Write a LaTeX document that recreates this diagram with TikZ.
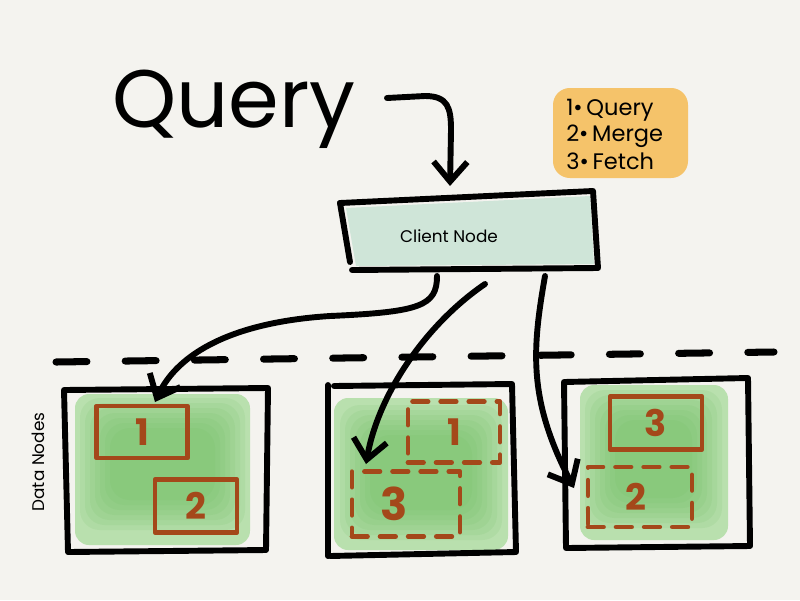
\documentclass[tikz,border=0pt]{standalone}
\usepackage{fontspec}
\setmainfont{Poppins}
\usetikzlibrary{arrows.meta}
\definecolor{bgc}{HTML}{F4F3EF}
\definecolor{mint}{HTML}{CFE5D8}
\definecolor{legendc}{HTML}{F5C36A}
\definecolor{greenA}{HTML}{B9E0AE}
\definecolor{greenB}{HTML}{6DBE60}
\definecolor{rust}{HTML}{A4481A}
\tikzset{
  ink/.style={line width=4.2pt, line cap=round, line join=round, black},
  arr/.style={ink, -{Straight Barb[length=14pt, width=24pt, line width=4.2pt]}},
  shard/.style={draw=rust, line width=3.4pt, line cap=round, line join=round, inner sep=0pt, text=rust, font=\fontsize{26}{26}\selectfont\bfseries},
  dshard/.style={shard, dash pattern=on 11pt off 9pt},
  greenfill/.style={fill=greenA, rounded corners=10pt},
  greencore/.style={fill=greenB, opacity=0.12, rounded corners=14pt},
}
\begin{document}
\begin{tikzpicture}[x=0.025cm, y=-0.025cm]
\fill[bgc] (0,0) rectangle (800,600);
\useasboundingbox (0,0) rectangle (800,600);

% Query text and arrow
\node[anchor=base west, font=\fontsize{58}{58}\selectfont, inner sep=0pt] (query) at (112,127) {Query};
\coordinate (qs) at (387,98);
\coordinate (qe) at (450,186);

% legend
\fill[legendc, rounded corners=12pt] (553,88) rectangle (688,178);
\node[anchor=west, font=\fontsize{16}{16}\selectfont, inner sep=0pt] (l1) at (566,110) {1\textbullet\,Query};
\node[anchor=west, font=\fontsize{16}{16}\selectfont, inner sep=0pt] (l2) at (566,136) {2\textbullet\,Merge};
\node[anchor=west, font=\fontsize{16}{16}\selectfont, inner sep=0pt] (l3) at (566,161) {3\textbullet\,Fetch};

% client node
\coordinate (c1) at (340,203);
\coordinate (c2) at (593,191);
\coordinate (c3) at (598,268);
\coordinate (c4) at (352,270);
\fill[mint] (346,208) -- (590,196) -- (594,264) -- (356,266) -- cycle;
\draw[ink] (c1) -- (c2) -- (c3) -- (c4);
\draw[ink] (c1) -- (350,262);
\node[font=\fontsize{12}{12}\selectfont] (client) at (449,236) {Client Node};

\draw[arr] (qs) -- (425,96) .. controls (448,96) and (451,108) .. (451,130) -- (qe);

% dashed separator
\draw[line width=5pt, line cap=round, dash pattern=on 22pt off 27.2pt] (56,362) -- (774,352);

% Data Nodes label
\node[rotate=90, font=\fontsize{12}{12}\selectfont] (dnlabel) at (38,462) {Data Nodes};

% data node 1
\fill[greenfill] (75,394) rectangle (250,545);
\foreach \i in {0,5,10,15,20,25,30} {\fill[greencore] (80+\i,398+\i) rectangle (245-\i,530-\i);}
\draw[ink] (64,390) -- (268,388) -- (266,550) -- (68,552) -- cycle;
% data node 2
\fill[greenfill] (334,398) rectangle (508,550);
\foreach \i in {0,5,10,15,20,25,30} {\fill[greencore] (340+\i,405+\i) rectangle (502-\i,540-\i);}
\draw[ink] (328,385) -- (328,556);
\draw[ink] (334,386) -- (512,384) -- (516,552) -- (330,556);
% data node 3
\fill[greenfill] (580,385) rectangle (728,540);
\foreach \i in {0,5,10,15,20,25,30} {\fill[greencore] (585+\i,390+\i) rectangle (722-\i,528-\i);}
\draw[ink] (564,382) -- (748,378) -- (750,546) -- (566,548) -- cycle;

% shards
\node[shard, minimum width=2.275cm, minimum height=1.3cm] (s11) at (142,432) {1};
\node[shard, minimum width=2.05cm, minimum height=1.325cm] (s12) at (196,506) {2};
\node[dshard, minimum width=2.3cm, minimum height=1.525cm] (s21) at (454,432) {1};
\node[dshard, minimum width=2.7cm, minimum height=1.625cm, font=\fontsize{32}{32}\selectfont\bfseries] (s23) at (406,504) {\hspace*{-0.6cm}3};
\node[shard, minimum width=2.3cm, minimum height=1.325cm] (s33) at (656,423) {3};
\node[dshard, minimum width=2.6cm, minimum height=1.5cm] (s32) at (640,497) {\hspace*{-0.2cm}2};

% connectors from client node
\coordinate (a1s) at (437,276);
\coordinate (a2s) at (485,284);
\coordinate (a3s) at (545,276);
\coordinate (a1e) at (155,402);
\coordinate (a2e) at (366,464);
\coordinate (a3e) at (574,488);
\draw[arr] (a1s) .. controls (437,306) and (420,312) .. (330,316) .. controls (235,322) and (178,352) .. (a1e);
\draw[arr] (a2s) .. controls (425,325) and (378,395) .. (a2e);
\draw[arr] (a3s) .. controls (532,350) and (528,400) .. (a3e);
\end{tikzpicture}
\end{document}
